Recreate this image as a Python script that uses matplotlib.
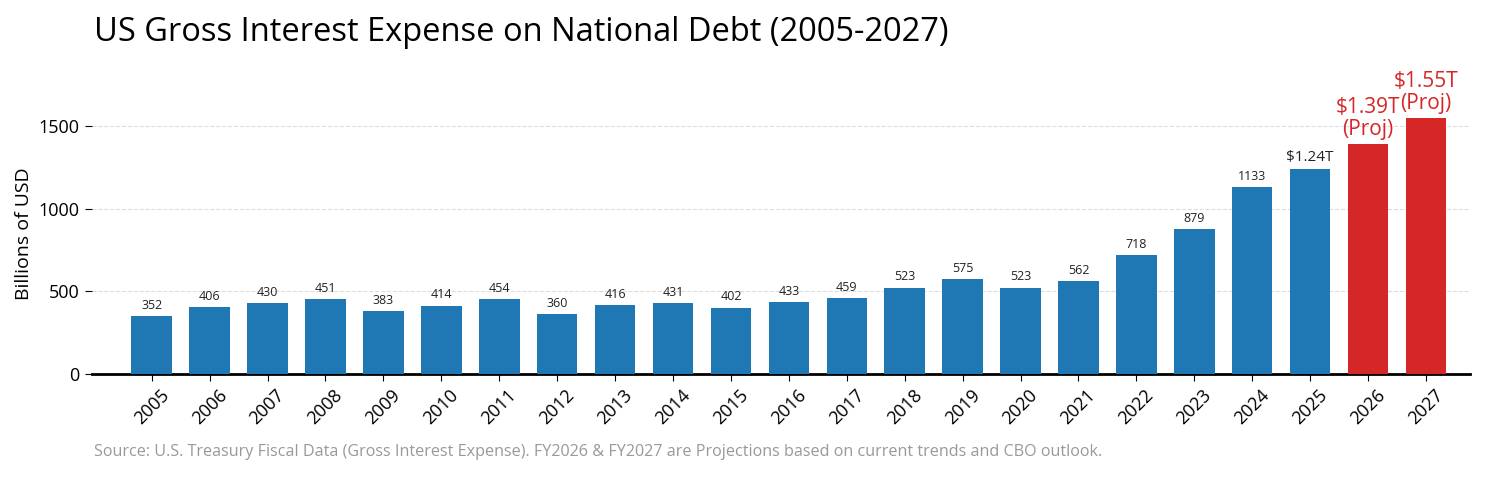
import matplotlib
matplotlib.use("Agg")
import matplotlib.pyplot as plt

years = list(range(2005, 2028))
values = [352, 406, 430, 451, 383, 414, 454, 360, 416, 431, 402, 433, 459, 523, 575, 523, 562, 718, 879, 1133, 1240, 1390, 1550]
labels = ["352","406","430","451","383","414","454","360","416","431","402","433","459","523","575","523","562","718","879","1133","$1.24T","$1.39T\n(Proj)","$1.55T\n(Proj)"]
projected = [False]*21 + [True, True]

plt.rcParams['font.family'] = ['Open Sans', 'DejaVu Sans']
fig = plt.figure(figsize=(15, 5), dpi=100)
ax = fig.add_axes([0.061, 0.252, 0.919, 0.562])
x = list(range(len(years)))
colors = ['#d62728' if p else '#1f77b4' for p in projected]
ax.bar(x, values, width=0.7, color=colors, zorder=3)
for xi, v, lab, p in zip(x, values, labels, projected):
    if p:
        ax.text(xi, v + 25, lab, ha='center', va='bottom', fontsize=15, color='#d62728', linespacing=1.05, clip_on=False)
    elif lab.startswith('$'):
        ax.text(xi, v + 25, lab, ha='center', va='bottom', fontsize=11, color='#222222')
    else:
        ax.text(xi, v + 25, lab, ha='center', va='bottom', fontsize=9, color='#222222')
ax.set_xlim(-1.04, 22.76)
ax.set_ylim(0, 1700)
ax.set_yticks([0, 500, 1000, 1500])
ax.tick_params(axis='y', labelsize=13, length=5)
ax.set_xticks(x)
ax.set_xticklabels([str(y) for y in years], rotation=45, fontsize=13)
ax.tick_params(axis='x', length=5)
ax.set_ylabel('Billions of USD', fontsize=14)
ax.grid(axis='y', linestyle='--', color='#dddddd', zorder=0)
for s in ['top', 'right', 'left']:
    ax.spines[s].set_visible(False)
ax.spines['bottom'].set_linewidth(2)
ax.spines['bottom'].set_color('black')
fig.text(0.063, 0.935, 'US Gross Interest Expense on National Debt (2005-2027)', fontsize=23.5, va='center')
fig.text(0.063, 0.095, 'Source: U.S. Treasury Fiscal Data (Gross Interest Expense). FY2026 & FY2027 are Projections based on current trends and CBO outlook.', fontsize=11.6, color='#999999', va='center')
fig.savefig('out.png')
